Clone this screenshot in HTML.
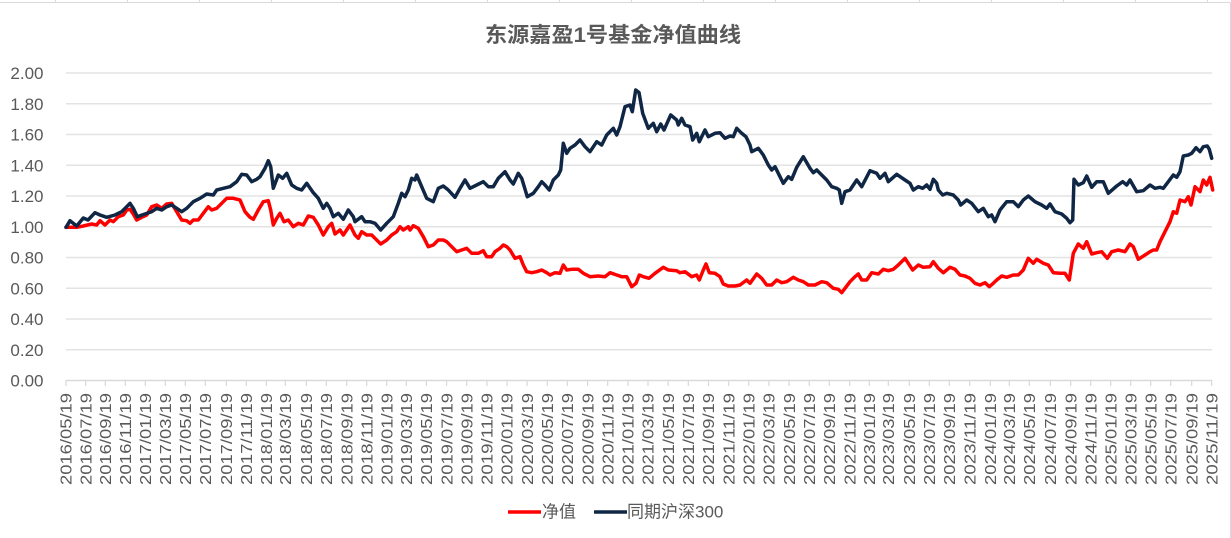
<!DOCTYPE html>
<html><head><meta charset="utf-8"><style>
html,body{margin:0;padding:0;background:#fff;}
svg{display:block;}
text{font-family:"Liberation Sans","Noto Sans CJK SC",sans-serif;fill:#595959;}
</style></head><body>
<svg width="1231" height="538" viewBox="0 0 1231 538" xmlns="http://www.w3.org/2000/svg">
<rect x="0" y="0" width="1231" height="538" fill="#fff"/>
<g stroke="#d9d9d9" stroke-width="1">
<line x1="0" y1="2.5" x2="1230.5" y2="2.5"/>
<line x1="1230.5" y1="2.5" x2="1230.5" y2="538"/>
<line x1="55.5" y1="0" x2="55.5" y2="2"/><line x1="127.5" y1="0" x2="127.5" y2="2"/><line x1="199.5" y1="0" x2="199.5" y2="2"/><line x1="271.5" y1="0" x2="271.5" y2="2"/><line x1="343.5" y1="0" x2="343.5" y2="2"/><line x1="415.5" y1="0" x2="415.5" y2="2"/><line x1="487.5" y1="0" x2="487.5" y2="2"/><line x1="559.5" y1="0" x2="559.5" y2="2"/><line x1="631.5" y1="0" x2="631.5" y2="2"/><line x1="703.5" y1="0" x2="703.5" y2="2"/><line x1="775.5" y1="0" x2="775.5" y2="2"/><line x1="847.5" y1="0" x2="847.5" y2="2"/><line x1="919.5" y1="0" x2="919.5" y2="2"/><line x1="991.5" y1="0" x2="991.5" y2="2"/><line x1="1063.5" y1="0" x2="1063.5" y2="2"/><line x1="1135.5" y1="0" x2="1135.5" y2="2"/><line x1="1207.5" y1="0" x2="1207.5" y2="2"/>
</g>
<text x="613" y="42" text-anchor="middle" font-size="21" font-weight="bold" textLength="256" lengthAdjust="spacingAndGlyphs">东源嘉盈1号基金净值曲线</text>
<g stroke="#e3e3e3" stroke-width="1.5">
<line x1="66" y1="73" x2="1212" y2="73"/>
<line x1="66" y1="103.75" x2="1212" y2="103.75"/>
<line x1="66" y1="134.5" x2="1212" y2="134.5"/>
<line x1="66" y1="165.25" x2="1212" y2="165.25"/>
<line x1="66" y1="196" x2="1212" y2="196"/>
<line x1="66" y1="226.75" x2="1212" y2="226.75"/>
<line x1="66" y1="257.5" x2="1212" y2="257.5"/>
<line x1="66" y1="288.25" x2="1212" y2="288.25"/>
<line x1="66" y1="319" x2="1212" y2="319"/>
<line x1="66" y1="349.75" x2="1212" y2="349.75"/>
</g>
<line x1="66" y1="380.5" x2="1212" y2="380.5" stroke="#d9d9d9" stroke-width="1.5"/>
<g font-size="17" text-anchor="end">
<text x="43.5" y="79">2.00</text>
<text x="43.5" y="109.75">1.80</text>
<text x="43.5" y="140.5">1.60</text>
<text x="43.5" y="171.25">1.40</text>
<text x="43.5" y="202">1.20</text>
<text x="43.5" y="232.75">1.00</text>
<text x="43.5" y="263.5">0.80</text>
<text x="43.5" y="294.25">0.60</text>
<text x="43.5" y="325">0.40</text>
<text x="43.5" y="355.75">0.20</text>
<text x="43.5" y="386.5">0.00</text>
</g>
<g stroke="#d9d9d9" stroke-width="1.2">
<line x1="66" y1="380" x2="66" y2="386"/><line x1="85.7" y1="380" x2="85.7" y2="386"/><line x1="105.3" y1="380" x2="105.3" y2="386"/><line x1="125.3" y1="380" x2="125.3" y2="386"/><line x1="145.3" y1="380" x2="145.3" y2="386"/><line x1="165.3" y1="380" x2="165.3" y2="386"/><line x1="185.3" y1="380" x2="185.3" y2="386"/><line x1="205.3" y1="380" x2="205.3" y2="386"/><line x1="226.3" y1="380" x2="226.3" y2="386"/><line x1="246.3" y1="380" x2="246.3" y2="386"/><line x1="266.3" y1="380" x2="266.3" y2="386"/><line x1="285.3" y1="380" x2="285.3" y2="386"/><line x1="306.3" y1="380" x2="306.3" y2="386"/><line x1="326.3" y1="380" x2="326.3" y2="386"/><line x1="346.7" y1="380" x2="346.7" y2="386"/><line x1="366.7" y1="380" x2="366.7" y2="386"/><line x1="386.7" y1="380" x2="386.7" y2="386"/><line x1="406.3" y1="380" x2="406.3" y2="386"/><line x1="426.4" y1="380" x2="426.4" y2="386"/><line x1="446.6" y1="380" x2="446.6" y2="386"/><line x1="466.7" y1="380" x2="466.7" y2="386"/><line x1="486.9" y1="380" x2="486.9" y2="386"/><line x1="507" y1="380" x2="507" y2="386"/><line x1="527.1" y1="380" x2="527.1" y2="386"/><line x1="547.3" y1="380" x2="547.3" y2="386"/><line x1="567.4" y1="380" x2="567.4" y2="386"/><line x1="587.6" y1="380" x2="587.6" y2="386"/><line x1="607.7" y1="380" x2="607.7" y2="386"/><line x1="627.9" y1="380" x2="627.9" y2="386"/><line x1="648" y1="380" x2="648" y2="386"/><line x1="668.2" y1="380" x2="668.2" y2="386"/><line x1="688.3" y1="380" x2="688.3" y2="386"/><line x1="708.5" y1="380" x2="708.5" y2="386"/><line x1="728.6" y1="380" x2="728.6" y2="386"/><line x1="748.8" y1="380" x2="748.8" y2="386"/><line x1="768.9" y1="380" x2="768.9" y2="386"/><line x1="789.1" y1="380" x2="789.1" y2="386"/><line x1="809.2" y1="380" x2="809.2" y2="386"/><line x1="829.3" y1="380" x2="829.3" y2="386"/><line x1="849.7" y1="380" x2="849.7" y2="386"/><line x1="869.3" y1="380" x2="869.3" y2="386"/><line x1="888.3" y1="380" x2="888.3" y2="386"/><line x1="909.3" y1="380" x2="909.3" y2="386"/><line x1="929.3" y1="380" x2="929.3" y2="386"/><line x1="949.3" y1="380" x2="949.3" y2="386"/><line x1="969.7" y1="380" x2="969.7" y2="386"/><line x1="990.3" y1="380" x2="990.3" y2="386"/><line x1="1009.3" y1="380" x2="1009.3" y2="386"/><line x1="1029.3" y1="380" x2="1029.3" y2="386"/><line x1="1050.3" y1="380" x2="1050.3" y2="386"/><line x1="1070.7" y1="380" x2="1070.7" y2="386"/><line x1="1090.7" y1="380" x2="1090.7" y2="386"/><line x1="1110.7" y1="380" x2="1110.7" y2="386"/><line x1="1130.7" y1="380" x2="1130.7" y2="386"/><line x1="1150.7" y1="380" x2="1150.7" y2="386"/><line x1="1170.7" y1="380" x2="1170.7" y2="386"/><line x1="1191.7" y1="380" x2="1191.7" y2="386"/><line x1="1211.7" y1="380" x2="1211.7" y2="386"/>
</g>
<g font-size="16">
<text transform="translate(71.7,485) rotate(-90)" textLength="92" lengthAdjust="spacingAndGlyphs">2016/05/19</text>
<text transform="translate(91.4,485) rotate(-90)" textLength="92" lengthAdjust="spacingAndGlyphs">2016/07/19</text>
<text transform="translate(111,485) rotate(-90)" textLength="92" lengthAdjust="spacingAndGlyphs">2016/09/19</text>
<text transform="translate(131,485) rotate(-90)" textLength="92" lengthAdjust="spacingAndGlyphs">2016/11/19</text>
<text transform="translate(151,485) rotate(-90)" textLength="92" lengthAdjust="spacingAndGlyphs">2017/01/19</text>
<text transform="translate(171,485) rotate(-90)" textLength="92" lengthAdjust="spacingAndGlyphs">2017/03/19</text>
<text transform="translate(191,485) rotate(-90)" textLength="92" lengthAdjust="spacingAndGlyphs">2017/05/19</text>
<text transform="translate(211,485) rotate(-90)" textLength="92" lengthAdjust="spacingAndGlyphs">2017/07/19</text>
<text transform="translate(232,485) rotate(-90)" textLength="92" lengthAdjust="spacingAndGlyphs">2017/09/19</text>
<text transform="translate(252,485) rotate(-90)" textLength="92" lengthAdjust="spacingAndGlyphs">2017/11/19</text>
<text transform="translate(272,485) rotate(-90)" textLength="92" lengthAdjust="spacingAndGlyphs">2018/01/19</text>
<text transform="translate(291,485) rotate(-90)" textLength="92" lengthAdjust="spacingAndGlyphs">2018/03/19</text>
<text transform="translate(312,485) rotate(-90)" textLength="92" lengthAdjust="spacingAndGlyphs">2018/05/19</text>
<text transform="translate(332,485) rotate(-90)" textLength="92" lengthAdjust="spacingAndGlyphs">2018/07/19</text>
<text transform="translate(352.4,485) rotate(-90)" textLength="92" lengthAdjust="spacingAndGlyphs">2018/09/19</text>
<text transform="translate(372.4,485) rotate(-90)" textLength="92" lengthAdjust="spacingAndGlyphs">2018/11/19</text>
<text transform="translate(392.4,485) rotate(-90)" textLength="92" lengthAdjust="spacingAndGlyphs">2019/01/19</text>
<text transform="translate(412,485) rotate(-90)" textLength="92" lengthAdjust="spacingAndGlyphs">2019/03/19</text>
<text transform="translate(432.1,485) rotate(-90)" textLength="92" lengthAdjust="spacingAndGlyphs">2019/05/19</text>
<text transform="translate(452.3,485) rotate(-90)" textLength="92" lengthAdjust="spacingAndGlyphs">2019/07/19</text>
<text transform="translate(472.4,485) rotate(-90)" textLength="92" lengthAdjust="spacingAndGlyphs">2019/09/19</text>
<text transform="translate(492.6,485) rotate(-90)" textLength="92" lengthAdjust="spacingAndGlyphs">2019/11/19</text>
<text transform="translate(512.7,485) rotate(-90)" textLength="92" lengthAdjust="spacingAndGlyphs">2020/01/19</text>
<text transform="translate(532.8,485) rotate(-90)" textLength="92" lengthAdjust="spacingAndGlyphs">2020/03/19</text>
<text transform="translate(553,485) rotate(-90)" textLength="92" lengthAdjust="spacingAndGlyphs">2020/05/19</text>
<text transform="translate(573.1,485) rotate(-90)" textLength="92" lengthAdjust="spacingAndGlyphs">2020/07/19</text>
<text transform="translate(593.3,485) rotate(-90)" textLength="92" lengthAdjust="spacingAndGlyphs">2020/09/19</text>
<text transform="translate(613.4,485) rotate(-90)" textLength="92" lengthAdjust="spacingAndGlyphs">2020/11/19</text>
<text transform="translate(633.6,485) rotate(-90)" textLength="92" lengthAdjust="spacingAndGlyphs">2021/01/19</text>
<text transform="translate(653.7,485) rotate(-90)" textLength="92" lengthAdjust="spacingAndGlyphs">2021/03/19</text>
<text transform="translate(673.9,485) rotate(-90)" textLength="92" lengthAdjust="spacingAndGlyphs">2021/05/19</text>
<text transform="translate(694,485) rotate(-90)" textLength="92" lengthAdjust="spacingAndGlyphs">2021/07/19</text>
<text transform="translate(714.2,485) rotate(-90)" textLength="92" lengthAdjust="spacingAndGlyphs">2021/09/19</text>
<text transform="translate(734.3,485) rotate(-90)" textLength="92" lengthAdjust="spacingAndGlyphs">2021/11/19</text>
<text transform="translate(754.5,485) rotate(-90)" textLength="92" lengthAdjust="spacingAndGlyphs">2022/01/19</text>
<text transform="translate(774.6,485) rotate(-90)" textLength="92" lengthAdjust="spacingAndGlyphs">2022/03/19</text>
<text transform="translate(794.8,485) rotate(-90)" textLength="92" lengthAdjust="spacingAndGlyphs">2022/05/19</text>
<text transform="translate(814.9,485) rotate(-90)" textLength="92" lengthAdjust="spacingAndGlyphs">2022/07/19</text>
<text transform="translate(835,485) rotate(-90)" textLength="92" lengthAdjust="spacingAndGlyphs">2022/09/19</text>
<text transform="translate(855.4,485) rotate(-90)" textLength="92" lengthAdjust="spacingAndGlyphs">2022/11/19</text>
<text transform="translate(875,485) rotate(-90)" textLength="92" lengthAdjust="spacingAndGlyphs">2023/01/19</text>
<text transform="translate(894,485) rotate(-90)" textLength="92" lengthAdjust="spacingAndGlyphs">2023/03/19</text>
<text transform="translate(915,485) rotate(-90)" textLength="92" lengthAdjust="spacingAndGlyphs">2023/05/19</text>
<text transform="translate(935,485) rotate(-90)" textLength="92" lengthAdjust="spacingAndGlyphs">2023/07/19</text>
<text transform="translate(955,485) rotate(-90)" textLength="92" lengthAdjust="spacingAndGlyphs">2023/09/19</text>
<text transform="translate(975.4,485) rotate(-90)" textLength="92" lengthAdjust="spacingAndGlyphs">2023/11/19</text>
<text transform="translate(996,485) rotate(-90)" textLength="92" lengthAdjust="spacingAndGlyphs">2024/01/19</text>
<text transform="translate(1015,485) rotate(-90)" textLength="92" lengthAdjust="spacingAndGlyphs">2024/03/19</text>
<text transform="translate(1035,485) rotate(-90)" textLength="92" lengthAdjust="spacingAndGlyphs">2024/05/19</text>
<text transform="translate(1056,485) rotate(-90)" textLength="92" lengthAdjust="spacingAndGlyphs">2024/07/19</text>
<text transform="translate(1076.4,485) rotate(-90)" textLength="92" lengthAdjust="spacingAndGlyphs">2024/09/19</text>
<text transform="translate(1096.4,485) rotate(-90)" textLength="92" lengthAdjust="spacingAndGlyphs">2024/11/19</text>
<text transform="translate(1116.4,485) rotate(-90)" textLength="92" lengthAdjust="spacingAndGlyphs">2025/01/19</text>
<text transform="translate(1136.4,485) rotate(-90)" textLength="92" lengthAdjust="spacingAndGlyphs">2025/03/19</text>
<text transform="translate(1156.4,485) rotate(-90)" textLength="92" lengthAdjust="spacingAndGlyphs">2025/05/19</text>
<text transform="translate(1176.4,485) rotate(-90)" textLength="92" lengthAdjust="spacingAndGlyphs">2025/07/19</text>
<text transform="translate(1197.4,485) rotate(-90)" textLength="92" lengthAdjust="spacingAndGlyphs">2025/09/19</text>
<text transform="translate(1217.4,485) rotate(-90)" textLength="92" lengthAdjust="spacingAndGlyphs">2025/11/19</text>
</g>
<polyline fill="none" stroke="#ff0000" stroke-width="3.5" stroke-linejoin="round" stroke-linecap="round" points="66,227.3 76.7,227.3 83.3,226 91.7,224 96.7,225 100,220.7 105,225 110,220 113.3,221.7 118.3,216.7 123.3,215 126.7,210 130,209.3 133.3,214 136.7,220 141.7,217.3 146.7,215 151.7,206.7 156.7,205 161.7,208.3 166.7,204 171.7,203.3 176.7,211.7 181.7,220 186.7,220.7 190,223.3 193.3,220 198.3,220 203.3,213.3 208.3,206.7 211.7,210 216.7,208.3 221.7,203.3 226.7,198.3 233.3,198.3 240,200 245,211.7 250,217.3 253.3,219.3 258.3,210 263.3,201.7 268.3,200.7 270.7,210 273.3,225 276.7,218.3 280,213.3 284,221.7 288.3,220 293.3,226.7 298.3,223.3 303.3,225 308.3,216 313.3,217.3 318.3,225 323.3,235 328.3,226.7 331.7,223.3 335,234 340,230 343.3,235 350,225 355,235 358.3,238.3 361.7,231.7 366.7,235 371.7,235 375,238.3 380.7,244 386.7,240 391.7,235 396.7,231.7 400,226.7 403.3,230 408.3,226.7 410,230 413.3,225.7 418.3,228.3 423.3,236.7 428.3,246.7 433.3,245 438.3,240 443.3,240 446.7,241.7 451.7,246.7 456.7,251.7 461.7,250 466.7,248.3 471.7,253.3 478.3,253.3 483.3,250.7 486.7,256.7 491.7,256.7 495,251.7 500,248.3 503.3,245 506.7,246.7 510,250 515,258.3 520,256.7 523.3,265 526.7,271.7 531.7,272.7 536.7,271.7 541.7,270 546.7,272.7 550,275 555,272.7 560,273.3 563.3,265 566.7,270 571.7,269.3 578.3,269.3 583.3,273.3 590,276.7 598.3,276 605,276.7 610,272.7 616.7,275 621.7,276.7 626.7,276.7 631.7,286.7 636,283.3 639.3,275 643.3,276.7 649,278.3 655,273.3 663.3,267.3 668.3,270 676.7,270.7 680,272.7 685,271.7 691.7,276.7 696.7,275 699.3,280 703.3,270 706,264 709.3,272.7 715,273.3 720,276.7 723.3,284 728.3,286 735,286 740,285 746.7,280 750,283.3 756.7,274 761.7,278.3 766.7,285 771.7,285 776.7,280 781.7,282.7 786.7,281.7 793.3,277.3 798.3,280 803.3,281.7 808.3,285 815,285 821.7,281.7 826.7,282.7 833.3,288.3 838.3,289.3 841.7,292.7 845,288.3 850,281.7 855,276.7 858.3,274 861.7,280 866.7,280 871.7,272.7 878.3,274 883.3,269.3 888.3,270.7 893.3,269.3 898.3,265 905,258.3 908.3,263.3 912.7,270 918.3,265 923.3,267.3 930,266.7 933.3,261.7 938.3,268.3 943.3,272.7 950,267.3 955,269.3 960,275 965,276 970,278.3 975,283.3 980,285 985,282.7 989.3,286.7 993.3,283.3 996.7,280 1001.7,276 1006.7,277.3 1013.3,275 1018.3,275 1023.3,270 1028.3,258.3 1033.3,263.3 1036.7,259.3 1043.3,263.3 1048.3,265 1053.3,272.7 1060,273.3 1065,273.3 1069.3,280 1073.3,253.3 1078.3,244 1083.3,248.3 1086.7,241.7 1091.7,254 1096.7,252.7 1101.7,251.7 1107.3,258.3 1111.7,251.7 1118.3,250 1125,251.7 1130,244 1133.3,246.7 1138.3,259.3 1145,255 1150,251.7 1153.3,250 1156.7,250 1160,241.7 1165,231.7 1170,221.7 1173.3,211.7 1176.7,213.3 1180,200 1185,201.7 1188.3,196.7 1191,205 1195,186.7 1200,191.7 1203.3,180 1206.7,185 1210,177.3 1212.7,190"/>
<polyline fill="none" stroke="#0f2644" stroke-width="3.5" stroke-linejoin="round" stroke-linecap="round" points="66,227.3 70,220.7 76.7,226 83.3,218 88,220 95,212.7 100,215 106.7,217.3 115,215 121.7,211.7 126.7,206.7 130,203.3 133.3,208.3 137.3,216.7 145,214 151.7,211.7 156.7,208.3 161.7,210 166.7,206.7 171.7,205 176.7,208.3 181.7,211.7 186.7,208.3 193.3,201.7 200,198.3 206.7,194 213.3,195 216.7,190 223.3,188.3 230,186.7 236.7,181.7 241.7,174.3 246.7,175 251.7,181.7 256.7,179.3 260,176.7 265,168.3 268.3,160.7 270.7,166.7 273.3,188.3 278.3,175 282.7,178.3 286.7,173.3 291.7,185 296.7,188.3 301.7,190 306.7,183.3 313.3,192.7 318.3,198.3 323.3,208.3 326.7,203.3 330,208.3 333.3,216.7 338.3,213.3 343.3,219.3 348.3,210 353.3,216.7 355,221.7 361.7,216.7 365,221.7 370,221.7 375,223.3 380.7,230 386.7,223.3 393.3,216.7 398.3,203.3 401.7,193.3 405,196.7 408.3,190 411.7,178.3 415,180 416.7,175 421.7,186.7 426.7,198.3 433.3,201.7 438.3,188.3 443.3,186 448.3,190 455,197.3 460,188.3 465,180 470,188.3 476.7,185 483.3,181.7 488.3,186.7 493.3,186.7 498.3,178.3 505,171.7 510,180 513.3,184 518.3,173.3 521.7,178.3 527.3,196.7 533.3,193.3 538.3,186.7 541.7,181.7 545,185 549.3,190 553.3,180 558.3,175 560.7,170 563.3,143.3 566.7,153.3 570,148.3 575,145 580,140 585,146.7 590,151.7 596.7,141.7 601.7,145 606.7,135 613.3,128.3 616.7,135 620,126.7 625,106.7 630,105 632.3,111.7 635.7,90 639,92.5 642.7,113.3 648.3,128.3 653.3,123.3 656.7,131.7 660.7,124 664,130 670.7,115 676.7,120 678.3,125 681.7,118.3 685,125 690,126.7 692.7,140 696.7,133.3 699.3,141.7 705,130 708.3,136.7 715,133.3 720,132.7 725,138.3 730,136 733.3,136.7 736.7,128.3 741.7,133.3 746,136.7 750,145 751.7,151.7 758.3,148.3 763.3,155 768.3,165 771.7,170 775,166.7 778.3,173.3 783.3,183.3 788.3,176.7 791.7,179.3 796.7,167.3 803.3,156.7 810,168.3 813.3,172.7 816.7,170 821.7,175 826.7,180 831.7,186.7 836.7,188.3 839.3,190 841.7,203.3 845,191.7 850,190 856.7,180 861.7,186.7 870,170.7 876.7,173.3 880,178.3 885,173.3 888.3,181.7 896.7,174.3 905,180 910,183.3 913.3,190 918.3,186.7 922.7,188.3 926.7,185 930,189.3 933.3,179.3 936.7,183.3 938.3,190 942.7,195 946.7,193.3 953.3,195 958.3,200 960.7,205 966.7,200 971.7,203.3 978.3,211.7 983.3,208.3 988.3,216.7 991.7,215 995,221.7 1000,210 1006.7,201.7 1013.3,201.7 1018.3,206.7 1023.3,200 1028.3,196 1035,201.7 1041.7,205 1046.7,208.3 1050,204 1055,211.7 1061.7,214 1066.7,218.3 1070,222.7 1072.7,220 1074,179.3 1078.3,185 1083.3,182.7 1086.7,176 1091.7,187.3 1096.7,181.7 1103.3,181.7 1108.3,193.3 1116.7,186 1122.7,181.7 1126.7,185 1130,180 1136.7,191.7 1143.3,190.7 1150,185 1155,188.3 1160,187.3 1163.3,188.3 1168.3,181.7 1173.3,175 1176.7,177.3 1180,171.7 1183.3,156 1188.3,155 1191.7,153.3 1196,147.7 1200,151.7 1203.3,146.7 1207.3,146 1209.3,149.3 1211.7,158.3"/>
<line x1="508" y1="512" x2="541" y2="512" stroke="#ff0000" stroke-width="3.5"/>
<text x="542" y="517.5" font-size="17">净值</text>
<line x1="594" y1="512" x2="627" y2="512" stroke="#0f2644" stroke-width="3.5"/>
<text x="627" y="517.5" font-size="17">同期沪深300</text>
</svg>
</body></html>
